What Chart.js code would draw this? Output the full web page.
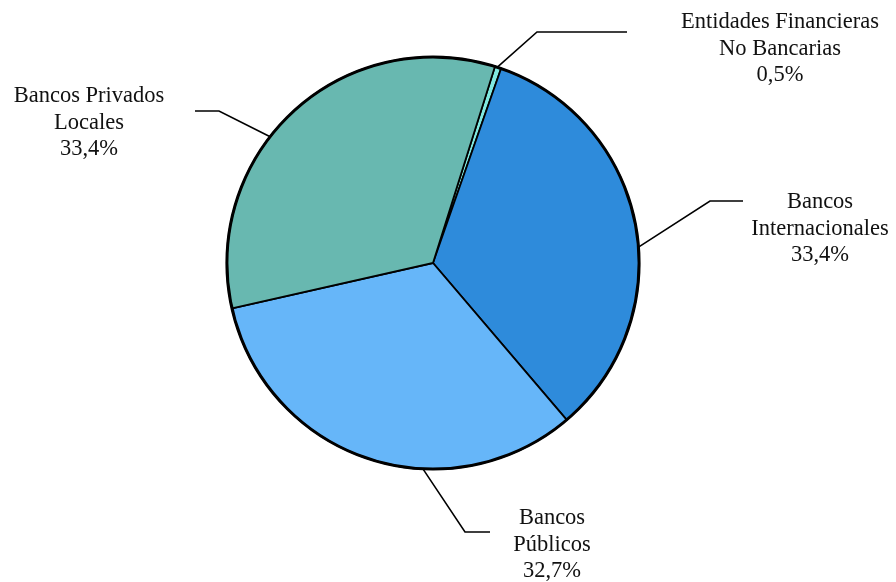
<!DOCTYPE html>
<html>
<head>
<meta charset="utf-8">
<script src="https://cdn.jsdelivr.net/npm/chart.js@4/dist/chart.umd.min.js"></script>
<style>
  html, body { margin: 0; padding: 0; background: #fff; }
  #wrap { width: 896px; height: 582px; }
</style>
</head>
<body>
<div id="wrap"><canvas id="myPieChart" width="896" height="582"></canvas></div>
<script>
// data
const categories = ['Entidades Financieras No Bancarias', 'Bancos Internacionales', 'Bancos Públicos', 'Bancos Privados Locales'];
const shares = [0.5, 33.4, 32.7, 33.4];
const labelLines = [
    ['Entidades Financieras', 'No Bancarias'],
    ['Bancos', 'Internacionales'],
    ['Bancos', 'Públicos'],
    ['Bancos Privados', 'Locales']
];
const sliceColors = ['#80e8e0', '#2e8bdb', '#66b6f9', '#68b8b0'];

// label layout: leader start angle (deg from top, clockwise), elbow, end, text centre, first baseline
const labelLayout = [
    {angle: 18.2, elbow: [537, 32], end: [627, 32], textX: 780, baseY: 28},
    {angle: 85.6, elbow: [710, 201], end: [743, 201], textX: 820, baseY: 208},
    {angle: 182.8, elbow: [465, 532], end: [490, 532], textX: 552, baseY: 524},
    {angle: 307.8, elbow: [219, 111], end: [195, 111], textX: 89, baseY: 102}
];

function formatShare(value) {
    return value.toFixed(1).replace('.', ',') + '%';
}

const pieLabels = {
    id: 'pieLabels',
    afterDatasetsDraw(chart) {
        const ctx = chart.ctx;
        const arcs = chart.getDatasetMeta(0).data;
        const cx = arcs[0].x;
        const cy = arcs[0].y;
        const r = arcs[0].outerRadius;

        // heavier outline round the whole pie
        ctx.save();
        ctx.beginPath();
        ctx.arc(cx, cy, r, 0, Math.PI * 2);
        ctx.lineWidth = 3;
        ctx.strokeStyle = '#000';
        ctx.stroke();

        ctx.font = '22.5px "Liberation Serif", "DejaVu Serif", serif';
        ctx.fillStyle = '#111';
        ctx.textAlign = 'center';
        ctx.textBaseline = 'alphabetic';
        ctx.lineWidth = 1.6;

        labelLayout.forEach((lay, i) => {
            const a = (lay.angle - 90) * Math.PI / 180;
            ctx.beginPath();
            ctx.moveTo(cx + r * Math.cos(a), cy + r * Math.sin(a));
            ctx.lineTo(lay.elbow[0], lay.elbow[1]);
            ctx.lineTo(lay.end[0], lay.end[1]);
            ctx.stroke();

            const lines = labelLines[i].concat([formatShare(shares[i])]);
            lines.forEach((line, j) => {
                ctx.fillText(line, lay.textX, lay.baseY + j * 26.7);
            });
        });
        ctx.restore();
    }
};

const ctx = document.getElementById('myPieChart').getContext('2d');
new Chart(ctx, {
    type: 'pie',
    data: {
        labels: categories,
        datasets: [{
            data: shares,
            backgroundColor: sliceColors,
            borderColor: '#000',
            borderWidth: 1.8,
            borderJoinStyle: 'miter'
        }]
    },
    options: {
        responsive: false,
        animation: false,
        rotation: 17.5,
        layout: {
            padding: {left: 226, right: 256, top: 56, bottom: 112}
        },
        plugins: {
            legend: {display: false},
            tooltip: {enabled: false}
        }
    },
    plugins: [pieLabels]
});
</script>
</body>
</html>
